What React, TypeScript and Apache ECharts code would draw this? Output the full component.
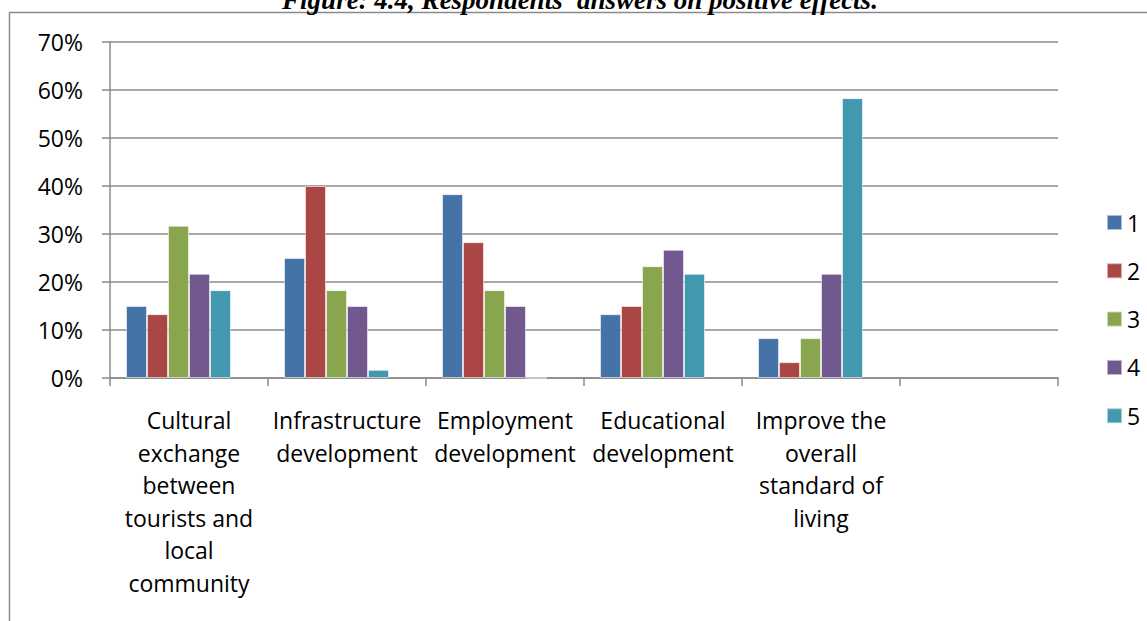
import React, { useEffect, useRef } from "react";
import * as echarts from "echarts";

const categories = [
  "Cultural\nexchange\nbetween\ntourists and\nlocal\ncommunity",
  "Infrastructure\ndevelopment",
  "Employment\ndevelopment",
  "Educational\ndevelopment",
  "Improve the\noverall\nstandard of\nliving",
  "",
];
const seriesNames = ["1", "2", "3", "4", "5"];
const values1 = [15, 25, 38.3, 13.3, 8.3, null];
const values2 = [13.3, 40, 28.3, 15, 3.3, null];
const values3 = [31.7, 18.3, 18.3, 23.3, 8.3, null];
const values4 = [21.7, 15, 15, 26.7, 21.7, null];
const values5 = [18.3, 1.7, 0, 21.7, 58.3, null];
const hiddenValues = [null, null, null, null, null, null];
const colors = ["#4572A7", "#AA4643", "#89A54E", "#71588F", "#4198AF"];
const yTicks = { min: 0, max: 70, interval: 10 };
const titleText = "Figure: 4.4, Respondents' answers on positive effects.";

const FONT = "'Open Sans', sans-serif";
const GRAY = "#8a8a8a";

export default function App() {
  const ref = useRef<HTMLDivElement>(null);
  useEffect(() => {
    if (!ref.current) return;
    const chart = echarts.init(ref.current, null, { renderer: "svg" });
    const allValues = [values1, values2, values3, values4, values5];
    const series: any[] = allValues.map((v, i) => ({
      name: seriesNames[i],
      type: "bar",
      data: v,
      barGap: "0%",
      barCategoryGap: "20.3%",
      itemStyle: {
        color: colors[i],
        borderColor: "rgba(255,255,255,0.55)",
        borderWidth: 1,
      },
    }));
    series.push({
      name: "",
      type: "bar",
      data: hiddenValues,
      barGap: "0%",
      barCategoryGap: "20.3%",
    });
    chart.setOption({
      animation: false,
      backgroundColor: "#ffffff",
      color: colors,
      graphic: [
        {
          type: "rect",
          shape: { x: 9.5, y: 12.5, width: 1300, height: 800 },
          style: { fill: "none", stroke: GRAY, lineWidth: 1.5 },
          silent: true,
        },
        {
          type: "text",
          x: 580,
          y: 0,
          style: {
            text: titleText,
            font: "italic bold 27px 'Liberation Serif', serif",
            fill: "#000",
            align: "center",
            verticalAlign: "middle",
          },
        },
      ],
      grid: { left: 110, right: 89, top: 42, bottom: 243, containLabel: false },
      legend: {
        data: seriesNames,
        orient: "vertical",
        left: 1101,
        top: 206,
        itemWidth: 15,
        itemHeight: 15,
        itemGap: 25.3,
        icon: "rect",
        textStyle: { fontFamily: FONT, fontSize: 23, color: "#000" },
      },
      xAxis: {
        type: "category",
        data: categories,
        axisLine: { show: true, lineStyle: { color: GRAY, width: 1.5 } },
        axisTick: { show: true, length: 8, lineStyle: { color: GRAY, width: 1.5 } },
        axisLabel: {
          interval: 0,
          margin: 26,
          fontFamily: FONT,
          fontSize: 23,
          color: "#000",
          lineHeight: 32.5,
          align: "center",
        },
      },
      yAxis: {
        type: "value",
        min: yTicks.min,
        max: yTicks.max,
        interval: yTicks.interval,
        axisLine: { show: true, lineStyle: { color: GRAY, width: 1.5 } },
        axisTick: { show: true, length: 8, lineStyle: { color: GRAY, width: 1.5 } },
        splitLine: { show: true, lineStyle: { color: GRAY, width: 1.5 } },
        axisLabel: {
          formatter: "{value}%",
          margin: 27,
          fontFamily: FONT,
          fontSize: 23,
          color: "#000",
        },
      },
      series,
    });
    return () => chart.dispose();
  }, []);
  return (
    <div
      ref={ref}
      style={{ position: "fixed", left: 0, top: 0, width: 1147, height: 621, background: "#fff" }}
    />
  );
}
